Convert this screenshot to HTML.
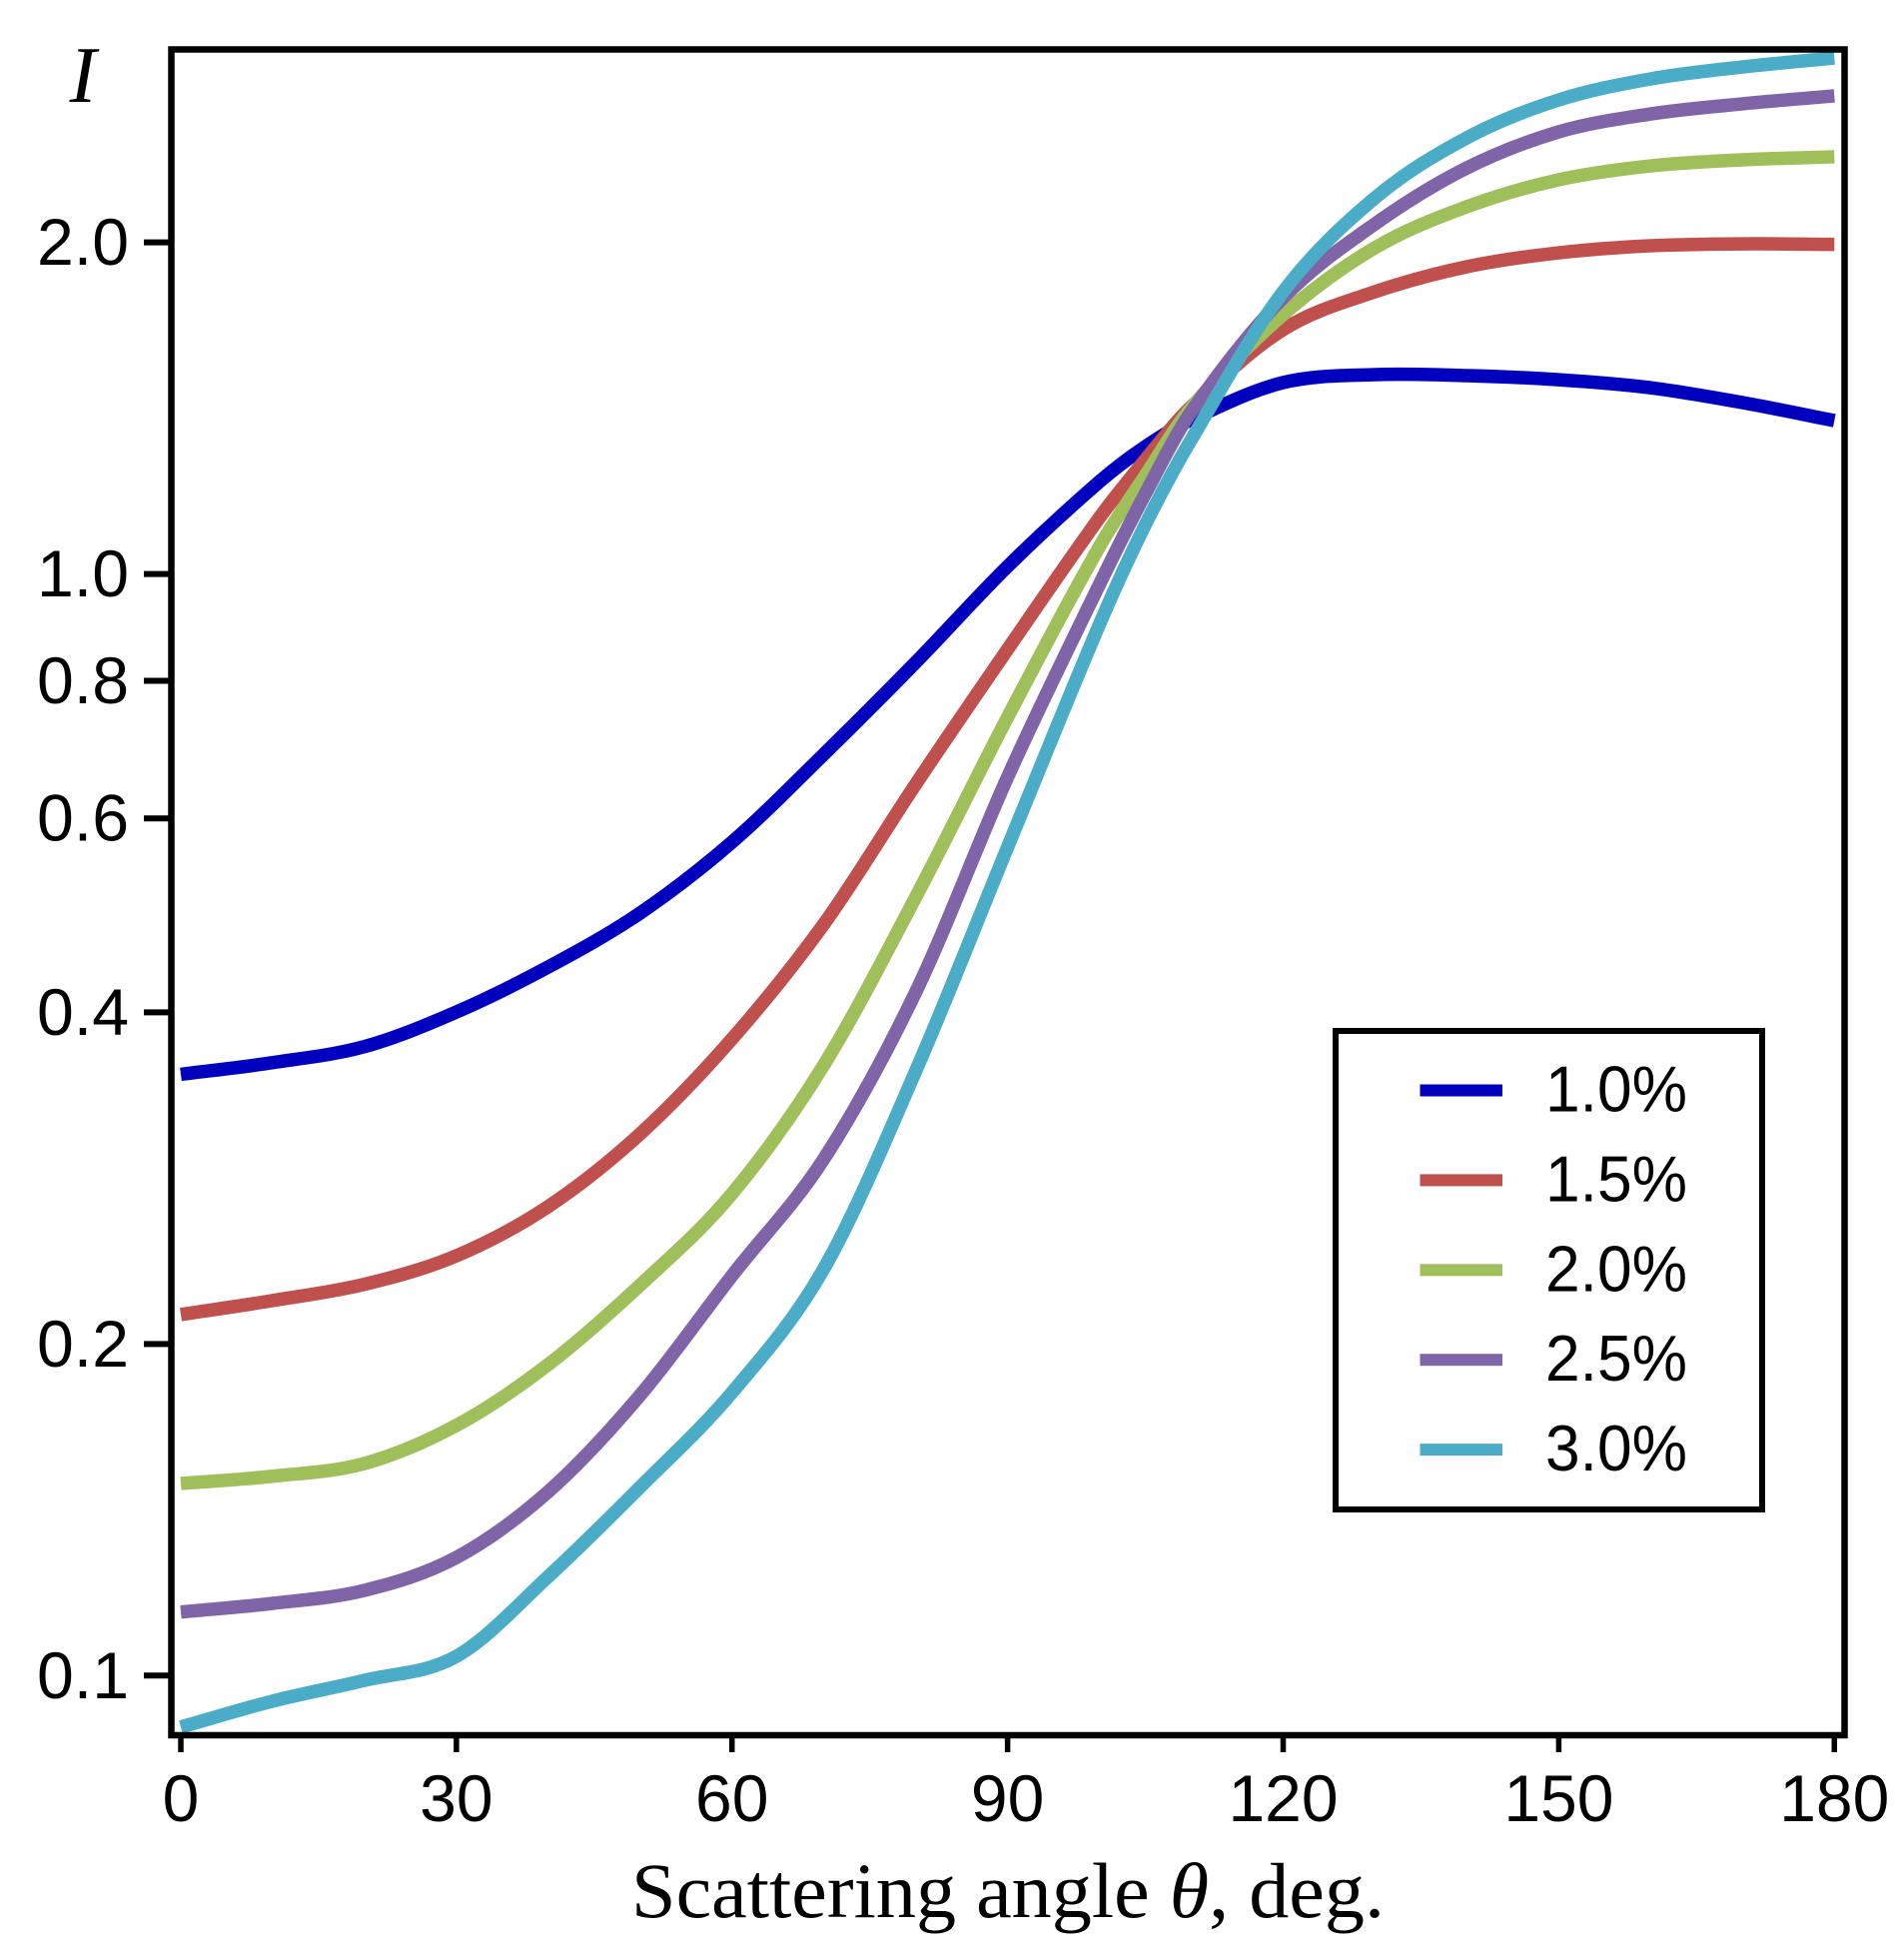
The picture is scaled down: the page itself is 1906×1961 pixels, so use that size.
<!DOCTYPE html>
<html>
<head>
<meta charset="utf-8">
<title>Scattering angle chart</title>
<style>
html,body{margin:0;padding:0;background:#fff}
svg{display:block}
text{fill:#000;font-family:"Liberation Sans",sans-serif}
.serif{font-family:"Liberation Serif",serif}
</style>
</head>
<body>
<svg id="chart" xmlns="http://www.w3.org/2000/svg" width="1906" height="1961" viewBox="0 0 1906 1961">
  <rect x="0" y="0" width="1906" height="1961" fill="#fff"/>
  <g id="series"></g>
  <rect x="171.5" y="49.5" width="1675" height="1687.5" fill="none" stroke="#000" stroke-width="6.5"/>
  <g id="xticks"></g>
  <g id="yticks"></g>
  <text class="serif" x="83" y="102" text-anchor="middle" font-size="80" font-style="italic">I</text>
  <text class="serif" x="632" y="1919" font-size="78" textLength="754" lengthAdjust="spacingAndGlyphs">Scattering angle <tspan font-style="italic">θ</tspan>, deg.</text>
  <g id="legend">
    <rect x="1337" y="1032" width="427" height="479" fill="#fff" stroke="#000" stroke-width="6"/>
  </g>
</svg>
<script>
const angles = [0,10,20,30,40,50,60,70,80,90,100,105,110,120,130,140,150,160,170,180];
const seriesNames = ["1.0%","1.5%","2.0%","2.5%","3.0%"];
const seriesColors = ["#0000BE","#C0504D","#9EBF5A","#8064A8","#4BACC8"];
const series10 = [0.3514,0.3601,0.3724,0.4003,0.4398,0.4923,0.5709,0.6861,0.8314,1.016,1.213,1.305,1.381,1.492,1.517,1.514,1.501,1.476,1.431,1.378];
const series15 = [0.2127,0.2190,0.2266,0.2405,0.2666,0.3103,0.3784,0.4811,0.6445,0.8543,1.125,1.270,1.419,1.667,1.804,1.901,1.957,1.986,1.994,1.992];
const series20 = [0.1494,0.1517,0.1558,0.1687,0.1916,0.2262,0.2738,0.3584,0.5090,0.7412,1.059,1.229,1.416,1.720,1.978,2.155,2.280,2.347,2.377,2.392];
const series25 = [0.1142,0.1163,0.1195,0.1280,0.1469,0.1797,0.2307,0.2945,0.4174,0.6540,0.9785,1.183,1.404,1.782,2.079,2.337,2.520,2.616,2.672,2.717];
const series30 = [0.0898,0.0948,0.0990,0.1041,0.1230,0.1483,0.1807,0.2341,0.3539,0.5650,0.9001,1.109,1.325,1.804,2.195,2.489,2.694,2.815,2.886,2.941];
const xTickValues = [0,30,60,90,120,150,180];
const yTickValues = [0.1,0.2,0.4,0.6,0.8,1.0,2.0];
const yTickLabels = ["0.1","0.2","0.4","0.6","0.8","1.0","2.0"];

const NS = "http://www.w3.org/2000/svg";
function xScale(deg){ return 181 + deg * 9.196; }
function yScale(v){ return 574.6 - 1102.7 * Math.log10(v); }

function smoothPath(xs, ys){
  let d = "M" + xScale(xs[0]).toFixed(2) + " " + yScale(ys[0]).toFixed(2);
  const px = xs.map(xScale), py = ys.map(yScale), n = px.length;
  for (let i = 0; i < n - 1; i++) {
    const i0 = Math.max(0, i - 1), i3 = Math.min(n - 1, i + 2);
    const h = px[i + 1] - px[i];
    const m1 = (py[i + 1] - py[i0]) / (px[i + 1] - px[i0]);
    const m2 = (py[i3] - py[i]) / (px[i3] - px[i]);
    d += "C" + (px[i] + h / 3).toFixed(2) + " " + (py[i] + m1 * h / 3).toFixed(2) + " "
      + (px[i + 1] - h / 3).toFixed(2) + " " + (py[i + 1] - m2 * h / 3).toFixed(2) + " "
      + px[i + 1].toFixed(2) + " " + py[i + 1].toFixed(2);
  }
  return d;
}

const allSeries = [series10, series15, series20, series25, series30];
const seriesGroup = document.getElementById("series");
allSeries.forEach(function (vals, i) {
  const p = document.createElementNS(NS, "path");
  p.setAttribute("d", smoothPath(angles, vals));
  p.setAttribute("fill", "none");
  p.setAttribute("stroke", seriesColors[i]);
  p.setAttribute("stroke-width", "13.5");
  
  
  seriesGroup.appendChild(p);
});

const xGroup = document.getElementById("xticks");
xTickValues.forEach(function (v) {
  const l = document.createElementNS(NS, "line");
  l.setAttribute("x1", xScale(v));
  l.setAttribute("x2", xScale(v));
  l.setAttribute("y1", 1737);
  l.setAttribute("y2", 1754);
  l.setAttribute("stroke", "#000");
  l.setAttribute("stroke-width", "5.5");
  
  
  xGroup.appendChild(l);
  const t = document.createElementNS(NS, "text");
  t.setAttribute("x", xScale(v));
  t.setAttribute("y", 1823);
  t.setAttribute("text-anchor", "middle");
  t.setAttribute("font-size", "66");
  t.textContent = String(v);
  
  
  xGroup.appendChild(t);
});

const yGroup = document.getElementById("yticks");
yTickValues.forEach(function (v, i) {
  const l = document.createElementNS(NS, "line");
  l.setAttribute("x1", 144);
  l.setAttribute("x2", 172);
  l.setAttribute("y1", yScale(v));
  l.setAttribute("y2", yScale(v));
  l.setAttribute("stroke", "#000");
  l.setAttribute("stroke-width", "6");
  
  
  yGroup.appendChild(l);
  const t = document.createElementNS(NS, "text");
  t.setAttribute("x", 37);
  t.setAttribute("y", yScale(v) + 22.5);
  t.setAttribute("font-size", "66");
  t.setAttribute("textLength", "92");
  t.setAttribute("lengthAdjust", "spacingAndGlyphs");
  t.textContent = yTickLabels[i];
  
  
  yGroup.appendChild(t);
});

const legendGroup = document.getElementById("legend");
seriesNames.forEach(function (name, i) {
  const rowY = 1091.5 + i * 89.9;
  const s = document.createElementNS(NS, "rect");
  s.setAttribute("x", 1421.5);
  s.setAttribute("y", rowY - 6);
  s.setAttribute("width", 82.5);
  s.setAttribute("height", 12);
  s.setAttribute("fill", seriesColors[i]);
  
  
  legendGroup.appendChild(s);
  const t = document.createElementNS(NS, "text");
  t.setAttribute("x", 1547);
  t.setAttribute("y", rowY + 21);
  t.setAttribute("font-size", "65");
  t.setAttribute("textLength", "142");
  t.setAttribute("lengthAdjust", "spacingAndGlyphs");
  t.textContent = name;
  
  
  legendGroup.appendChild(t);
});
</script>
</body>
</html>
